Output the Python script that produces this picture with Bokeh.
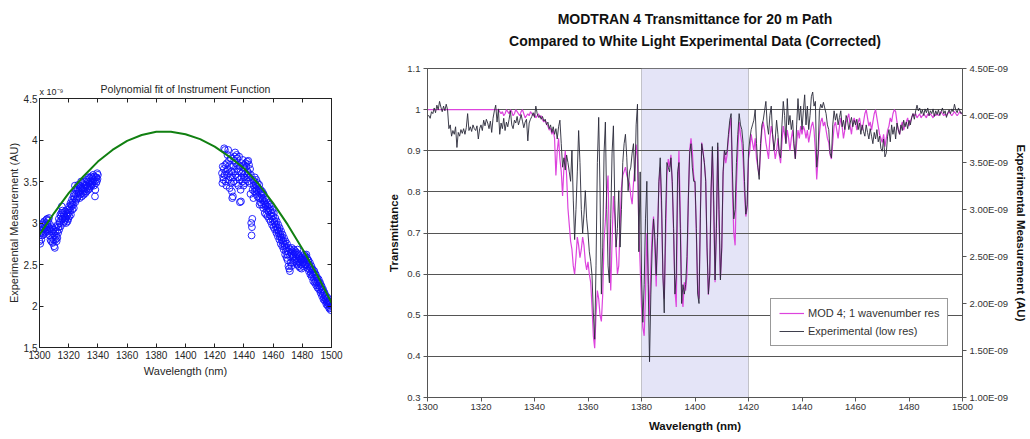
from bokeh.plotting import figure
from bokeh.layouts import row, column
from bokeh.models import (Range1d, LinearAxis, FixedTicker, CustomJSTickFormatter,
                          BoxAnnotation, Legend, LegendItem, Title, Spacer)
from bokeh.embed import file_html
from bokeh.resources import INLINE

FONT = "Liberation Sans"

# ---------------- Left panel: polynomial fit of instrument function (values x 1e-9 AU) -------------
fit_wl = [1300, 1310, 1320, 1330, 1340, 1350, 1360, 1370, 1380, 1390, 1400,
          1410, 1420, 1430, 1440, 1450, 1460, 1470, 1480, 1490, 1500]
fit_val = [2.86, 3.12, 3.36, 3.56, 3.74, 3.88, 3.99, 4.06, 4.10, 4.10, 4.07,
           4.01, 3.92, 3.80, 3.66, 3.47, 3.24, 2.98, 2.69, 2.38, 2.04]

# measured points, 0.25 nm apart, first cluster starts at 1300 nm, second at 1425 nm
inst_step = 0.25
inst_left_start = 1300
inst_left_val = [
    2.78, 2.92, 2.75, 2.88, 2.95, 2.80, 2.90, 2.85, 2.98, 2.88, 3.00, 2.86,
    2.93, 3.02, 2.90, 2.97, 2.88, 3.00, 2.95, 3.04, 2.92, 3.05, 2.98, 2.90,
    3.03, 2.95, 3.06, 2.92, 2.85, 2.98, 2.80, 2.93, 2.78, 2.90, 2.95, 2.82,
    2.76, 2.88, 2.92, 2.80, 2.72, 2.85, 2.70, 2.90, 2.80, 2.95, 2.84, 2.78,
    2.90, 2.82, 2.98, 2.88, 2.95, 3.05, 2.92, 3.00, 3.02, 3.10, 2.96, 3.08,
    3.12, 3.20, 3.05, 3.15, 3.05, 3.12, 3.00, 3.10, 3.02, 3.08, 3.14, 3.04,
    3.06, 3.00, 3.12, 3.08, 3.10, 3.02, 3.16, 3.05, 3.12, 3.20, 3.08, 3.18,
    3.15, 3.24, 3.10, 3.22, 3.20, 3.28, 3.16, 3.25, 3.22, 3.32, 3.18, 3.35,
    3.30, 3.45, 3.25, 3.40, 3.35, 3.28, 3.42, 3.30, 3.40, 3.32, 3.46, 3.36,
    3.38, 3.45, 3.30, 3.42, 3.44, 3.35, 3.50, 3.40, 3.32, 3.42, 3.36, 3.48,
    3.40, 3.34, 3.46, 3.38, 3.42, 3.50, 3.36, 3.45, 3.46, 3.38, 3.52, 3.42,
    3.44, 3.50, 3.40, 3.55, 3.48, 3.42, 3.54, 3.46, 3.50, 3.44, 3.56, 3.48,
    3.46, 3.54, 3.50, 3.58, 3.52, 3.45, 3.56, 3.50, 3.32, 3.40, 3.55, 3.48,
    3.55, 3.50, 3.60, 3.53, 3.58]
inst_right_start = 1425
inst_right_val = [
    3.60, 3.48, 3.68, 3.55, 3.52, 3.65, 3.90, 3.58, 3.88, 3.70, 3.50, 3.62,
    3.45, 3.72, 3.58, 3.82, 3.65, 3.88, 3.52, 3.75, 3.60, 3.42, 3.70, 3.55,
    3.78, 3.48, 3.62, 3.38, 3.30, 3.55, 3.32, 3.68, 3.50, 3.75, 3.62, 3.80,
    3.85, 3.58, 3.72, 3.48, 3.82, 3.65, 3.78, 3.55, 3.70, 3.45, 3.62, 3.80,
    3.52, 3.25, 3.68, 3.40, 3.26, 3.55, 3.72, 3.60, 3.50, 3.76, 3.62, 3.45,
    3.70, 3.55, 3.66, 3.48, 3.60, 3.72, 3.52, 3.68, 3.58, 3.74, 3.62, 3.50,
    3.75, 3.60, 3.70, 3.55, 3.48, 3.65, 3.35, 3.58, 3.00, 2.85, 2.95, 3.05,
    3.40, 3.52, 3.30, 3.45, 3.50, 3.38, 3.55, 3.42, 3.46, 3.35, 3.52, 3.40,
    3.44, 3.32, 3.48, 3.38, 3.42, 3.30, 3.46, 3.22, 3.36, 3.25, 3.40, 3.30,
    3.34, 3.22, 3.38, 3.28, 3.30, 3.18, 3.35, 3.24, 3.26, 3.12, 3.30, 3.20,
    3.22, 3.10, 3.28, 3.16, 3.20, 3.08, 3.24, 3.14, 3.18, 3.05, 3.22, 3.10,
    3.15, 3.02, 3.20, 3.08, 3.12, 2.98, 3.16, 3.04, 3.08, 2.95, 3.12, 3.00,
    3.02, 2.92, 3.06, 2.96, 2.98, 2.88, 3.02, 2.92, 2.94, 2.84, 2.98, 2.88,
    2.90, 2.80, 2.94, 2.84, 2.86, 2.75, 2.90, 2.80, 2.82, 2.72, 2.86, 2.76,
    2.78, 2.68, 2.82, 2.72, 2.74, 2.62, 2.78, 2.66, 2.70, 2.58, 2.75, 2.62,
    2.55, 2.66, 2.48, 2.70, 2.45, 2.60, 2.42, 2.68, 2.52, 2.64, 2.48, 2.70,
    2.58, 2.66, 2.52, 2.62, 2.60, 2.68, 2.54, 2.64, 2.56, 2.66, 2.62, 2.52,
    2.58, 2.64, 2.50, 2.68, 2.54, 2.62, 2.48, 2.60, 2.52, 2.58, 2.46, 2.56,
    2.50, 2.56, 2.45, 2.58, 2.52, 2.60, 2.48, 2.56, 2.54, 2.62, 2.50, 2.58,
    2.56, 2.60, 2.50, 2.62, 2.52, 2.58, 2.46, 2.55, 2.48, 2.55, 2.42, 2.50,
    2.44, 2.52, 2.38, 2.46, 2.40, 2.48, 2.35, 2.44, 2.38, 2.44, 2.30, 2.40,
    2.34, 2.42, 2.28, 2.38, 2.30, 2.38, 2.25, 2.34, 2.28, 2.34, 2.22, 2.30,
    2.25, 2.32, 2.20, 2.28, 2.22, 2.28, 2.16, 2.24, 2.18, 2.24, 2.12, 2.20,
    2.14, 2.20, 2.08, 2.16, 2.10, 2.16, 2.06, 2.12, 2.08, 2.12, 2.02, 2.06,
    2.04, 2.10, 2.00, 2.06, 2.02, 2.06, 1.97, 2.03, 1.98, 2.04, 1.95, 2.00,
    2.00]

left_x_ticks = [1300, 1320, 1340, 1360, 1380, 1400, 1420, 1440, 1460, 1480, 1500]
left_y_ticks = [1.5, 2, 2.5, 3, 3.5, 4, 4.5]

# ---------------- Right panel: MODTRAN vs experimental, 0.5 nm samples from 1300 nm ---------------
spec_start = 1300
spec_step = 0.5
mod_T = [
    1.0, 1.0, 1.0, 1.0, 1.0, 1.0, 1.0, 1.0, 1.0, 1.0, 1.0, 1.0, 1.0, 1.0, 1.0, 1.0, 1.0, 1.0, 1.0, 1.0,
    1.0, 1.0, 1.0, 1.0, 1.0, 1.0, 1.0, 1.0, 1.0, 1.0, 1.0, 1.0, 1.0, 1.0, 1.0, 1.0, 1.0, 1.0, 1.0, 1.0,
    1.0, 1.0, 1.0, 1.0, 1.0, 1.0, 1.0, 1.0, 1.0, 1.0, 1.0, 1.0, 1.0, 1.0, 0.995, 0.99, 0.995, 0.985, 0.99, 1.0,
    0.995, 0.99, 1.0, 0.995, 0.985, 0.99, 1.0, 0.995, 0.99, 0.985, 0.995, 1.0, 0.99, 0.98, 0.985, 0.99, 0.985, 0.995, 0.99, 0.985,
    0.99, 0.98, 0.985, 0.99, 0.98, 0.985, 0.975, 0.97, 0.975, 0.965, 0.96, 0.95, 0.955, 0.94, 0.95, 0.93, 0.84, 0.90, 0.93, 0.88,
    0.85, 0.79, 0.86, 0.90, 0.84, 0.76, 0.72, 0.68, 0.66, 0.62, 0.60, 0.64, 0.69, 0.67, 0.64, 0.66, 0.69, 0.67, 0.63, 0.61,
    0.63, 0.60, 0.58, 0.52, 0.45, 0.42, 0.50, 0.56, 0.54, 0.50, 0.485, 0.55, 0.68, 0.73, 0.80, 0.84, 0.66, 0.56, 0.68, 0.79,
    0.74, 0.66, 0.60, 0.62, 0.72, 0.81, 0.84, 0.85, 0.86, 0.84, 0.83, 0.82, 0.79, 0.77, 0.82, 0.86, 0.915, 0.88, 0.71, 0.62,
    0.52, 0.47, 0.45, 0.55, 0.70, 0.60, 0.50, 0.62, 0.70, 0.74, 0.66, 0.57, 0.70, 0.82, 0.86, 0.75, 0.60, 0.54, 0.68, 0.84,
    0.88, 0.86, 0.89, 0.82, 0.70, 0.56, 0.52, 0.80, 0.90, 0.75, 0.55, 0.52, 0.58, 0.56, 0.60, 0.78, 0.90, 0.93, 0.90, 0.84,
    0.82, 0.70, 0.56, 0.54, 0.75, 0.92, 0.90, 0.87, 0.83, 0.66, 0.55, 0.60, 0.80, 0.90, 0.75, 0.58, 0.72, 0.91, 0.72, 0.59,
    0.66, 0.84, 0.90, 0.87, 0.89, 0.93, 0.96, 0.98, 0.80, 0.70, 0.67, 0.82, 0.90, 0.97, 0.94, 0.92, 0.88, 0.80, 0.74, 0.76,
    0.88, 0.90, 0.94, 0.92, 0.90, 0.93, 0.88, 0.86, 0.84, 0.90, 0.95, 0.97, 0.95, 0.92, 0.90, 0.88, 0.93, 0.96, 0.94, 0.91,
    0.88, 0.90, 0.93, 0.89, 0.87, 0.92, 0.96, 0.94, 0.92, 0.95, 0.93, 0.90, 0.93, 0.95, 0.91, 0.88, 0.92, 0.95, 0.93, 0.96,
    0.94, 0.96, 0.95, 0.93, 0.95, 0.92, 0.94, 0.96, 0.97, 0.95, 0.90, 0.83, 0.88, 0.94, 0.97, 0.98, 0.96, 0.97, 0.95, 0.93,
    0.92, 0.89, 0.88, 0.92, 0.96, 0.97, 0.95, 0.93, 0.96, 0.98, 0.96, 0.93, 0.95, 0.97, 0.98, 0.99, 0.96, 0.94, 0.97, 0.98,
    0.97, 0.95, 0.97, 0.98, 0.96, 0.95, 0.97, 0.99, 1.00, 0.98, 0.96, 0.97, 0.95, 0.97, 0.99, 1.00, 0.98, 0.96, 0.94, 0.93,
    0.92, 0.94, 0.91, 0.93, 0.95, 0.96, 0.98, 0.97, 0.99, 1.00, 0.995, 0.97, 0.95, 0.94, 0.96, 0.97, 0.95, 0.96, 0.97, 0.98,
    0.96, 0.97, 0.98, 0.99, 0.985, 0.99, 0.98, 0.985, 0.99, 0.98, 0.985, 0.99, 0.985, 0.98, 0.99, 0.985, 0.99, 0.985, 0.98, 0.99,
    0.985, 0.99, 0.985, 0.99, 0.995, 0.99, 0.985, 0.99, 0.985, 0.99, 0.995, 0.99, 0.985, 0.99, 0.995, 0.99, 0.985, 0.99, 0.995, 0.99,
    0.99]

# experimental measurement, right axis (x 1e-9 AU)
exp_E = [
    3.99, 4.00, 3.97, 4.04, 4.02, 4.08, 4.03, 4.11, 4.06, 4.15, 4.09, 4.04, 4.10, 4.05, 4.12, 4.06, 3.86, 3.90, 3.78, 3.84,
    3.80, 3.88, 3.66, 3.82, 3.78, 3.85, 3.81, 3.86, 3.80, 3.87, 4.02, 3.84, 3.88, 3.83, 3.90, 3.86, 3.84, 3.89, 3.75, 3.86,
    3.90, 3.84, 3.95, 3.89, 3.96, 3.92, 3.86, 3.94, 3.82, 3.97, 4.05, 4.11, 3.93, 4.07, 3.80, 3.92, 3.86, 3.97, 3.84, 3.93,
    3.88, 3.96, 4.05, 3.90, 3.86, 3.95, 3.92, 3.99, 3.90, 3.95, 4.01, 3.94, 3.87, 3.93, 3.96, 3.73, 3.92, 3.96, 3.99, 4.03,
    3.98, 4.10, 4.02, 3.98, 4.00, 3.96, 3.99, 3.94, 3.96, 3.90, 3.93, 3.86, 3.90, 3.82, 3.88, 3.80, 3.86, 3.75, 3.88, 3.95,
    3.70, 3.45, 3.55, 3.42, 3.58, 3.50, 3.40, 3.30, 3.63, 3.10, 2.68, 3.00, 3.40, 3.84, 3.50, 3.00, 2.75, 2.95, 3.20, 2.90,
    2.75, 2.55, 2.45, 2.30, 1.90, 1.62, 2.40, 3.50, 3.98, 3.20, 2.10, 2.60, 3.60, 3.93, 3.00, 2.40, 2.22, 2.90, 3.60, 3.89,
    3.10, 2.60, 2.80, 3.20, 2.60, 3.00, 3.50, 3.70, 3.80, 3.55, 3.20, 3.40, 3.45, 3.60, 3.70, 3.30, 3.90, 4.12, 2.55, 3.40,
    2.30, 1.80, 2.20, 2.90, 3.30, 2.20, 1.38, 2.10, 2.60, 2.90, 2.70, 2.30, 2.70, 3.30, 3.55, 3.10, 2.30, 1.90, 2.90, 3.50,
    3.45, 3.40, 3.55, 3.30, 2.80, 2.10, 2.30, 3.40, 3.50, 2.80, 2.00, 2.20, 2.10, 2.20, 2.50, 3.10, 3.60, 3.70, 3.45, 3.30,
    3.30, 2.80, 2.10, 2.00, 2.90, 3.70, 3.60, 3.50, 3.30, 2.60, 2.10, 2.30, 3.20, 3.67, 3.10, 2.25, 2.80, 3.71, 3.00, 2.25,
    2.60, 3.40, 3.63, 3.58, 3.62, 3.80, 3.95, 4.02, 3.40, 2.90, 3.00, 3.50, 3.80, 4.02, 3.90, 3.85, 3.70, 3.30, 2.95, 3.05,
    3.60, 3.75, 3.85, 3.90, 3.95, 4.06, 3.70, 3.45, 3.32, 3.70, 3.90, 3.95, 4.05, 4.15, 3.90, 3.80, 4.00, 4.10, 3.80, 3.63,
    3.75, 3.95, 3.80, 3.60, 3.55, 3.90, 4.15, 4.00, 3.70, 4.18, 3.90, 4.00, 3.85, 3.95, 3.70, 3.54, 3.90, 4.18, 3.95, 4.10,
    3.85, 4.05, 4.22, 3.90, 4.10, 3.85, 4.00, 4.20, 4.25, 4.10, 4.15, 3.45, 3.60, 4.05, 4.12, 4.08, 4.14, 4.08, 4.02, 3.90,
    3.85, 3.60, 3.55, 3.90, 4.05, 3.95, 4.02, 3.90, 3.98, 4.05, 3.88, 3.95, 3.85, 4.00, 3.95, 3.85, 3.92, 3.98, 3.88, 3.95,
    3.90, 3.96, 3.85, 3.92, 3.80, 3.90, 3.83, 3.78, 3.90, 3.82, 3.75, 3.86, 3.78, 3.70, 3.82, 3.75, 3.85, 3.72, 3.78, 3.65,
    3.62, 3.75, 3.56, 3.60, 3.78, 3.85, 3.72, 3.90, 3.80, 3.88, 3.75, 3.92, 3.85, 3.80, 3.90, 3.84, 3.95, 3.88, 3.93, 3.86,
    3.95, 3.90, 3.98, 4.02, 3.96, 4.05, 4.11, 4.05, 4.08, 4.02, 4.06, 4.00, 4.07, 4.03, 4.08, 4.00, 4.05, 4.02, 4.07, 3.99,
    4.05, 4.01, 4.06, 4.00, 4.04, 4.08, 4.02, 4.05, 3.98, 4.03, 4.06, 4.02, 4.07, 4.04, 4.12, 4.06, 4.03, 4.08, 4.05, 4.02,
    4.04]

band_wl = [1380, 1420]
right_x_ticks = [1300, 1320, 1340, 1360, 1380, 1400, 1420, 1440, 1460, 1480, 1500]
right_y_ticks = [0.3, 0.4, 0.5, 0.6, 0.7, 0.8, 0.9, 1.0, 1.1]
exp_ticks = [1.0, 1.5, 2.0, 2.5, 3.0, 3.5, 4.0, 4.5]

legend_labels = ["MOD 4; 1 wavenumber res", "Experimental (low res)"]
title_lines = ["MODTRAN 4 Transmittance for 20 m Path",
               "Compared to White Light Experimental Data (Corrected)"]

# derived x positions
inst_left_wl = [inst_left_start + inst_step * i for i in range(len(inst_left_val))]
inst_right_wl = [inst_right_start + inst_step * i for i in range(len(inst_right_val))]
mod_wl = [spec_start + spec_step * i for i in range(len(mod_T))]
exp_wl = [spec_start + spec_step * i for i in range(len(exp_E))]


def style_axis(ax, size, color, tick_in, tick_out, line_color, label_size, bold, label_color,
               label_standoff=3, axis_label_standoff=3):
    ax.major_label_text_font = FONT
    ax.major_label_text_font_size = size
    ax.major_label_text_color = color
    ax.major_tick_in = tick_in
    ax.major_tick_out = tick_out
    ax.major_tick_line_color = line_color
    ax.minor_tick_line_color = None
    ax.axis_line_color = line_color
    ax.major_label_standoff = label_standoff
    ax.axis_label_text_font = FONT
    ax.axis_label_text_font_size = label_size
    ax.axis_label_text_font_style = "bold" if bold else "normal"
    ax.axis_label_text_color = label_color
    ax.axis_label_standoff = axis_label_standoff


# ================= Left figure =================
p1 = figure(width=372, height=359, x_range=Range1d(1300, 1500), y_range=Range1d(1.5, 4.5),
            output_backend="svg", toolbar_location=None, title=None,
            min_border_left=39, min_border_right=41, min_border_top=68, min_border_bottom=42)
p1.outline_line_color = "#222222"
p1.grid.visible = False
p1.background_fill_color = "white"
p1.border_fill_color = "white"

p1.xaxis.ticker = FixedTicker(ticks=left_x_ticks)
p1.yaxis.ticker = FixedTicker(ticks=left_y_ticks)
p1.yaxis.formatter = CustomJSTickFormatter(code="return String(Math.round(tick*10)/10);")
p1.xaxis.axis_label = "Wavelength (nm)"
p1.yaxis.axis_label = "Experimental Measurement (AU)"
style_axis(p1.xaxis[0], "10px", "#262626", 4, 0, "#222222", "11px", False, "#262626", 3, 3)
style_axis(p1.yaxis[0], "10px", "#262626", 4, 0, "#222222", "11px", False, "#262626", 2, 1)

top_ax = LinearAxis(ticker=FixedTicker(ticks=left_x_ticks))
style_axis(top_ax, "1px", None, 4, 0, "#222222", "1px", False, None, 0, 0)
p1.add_layout(top_ax, "above")
right_ax = LinearAxis(ticker=FixedTicker(ticks=left_y_ticks))
style_axis(right_ax, "1px", None, 4, 0, "#222222", "1px", False, None, 0, 0)
p1.add_layout(right_ax, "right")

p1.scatter(inst_left_wl, inst_left_val, marker="circle", size=6.8, fill_color=None,
           line_color="#1010ff", line_width=0.9)
p1.scatter(inst_right_wl, inst_right_val, marker="circle", size=6.8, fill_color=None,
           line_color="#1010ff", line_width=0.9)
p1.line(fit_wl, fit_val, line_color="#118011", line_width=2)

p1.add_layout(Title(text="x 10\u207b\u2079", align="left", standoff=3, text_font=FONT,
                    text_font_size="9px", text_font_style="normal", text_color="#262626"), "above")
p1.add_layout(Title(text="Polynomial fit of Instrument Function", align="center", standoff=-22,
                    text_font=FONT, text_font_size="10.5px", text_font_style="normal",
                    text_color="#262626"), "above")

# ================= Right figure =================
p2 = figure(width=658, height=439, x_range=Range1d(1300, 1500), y_range=Range1d(0.3, 1.1),
            output_backend="svg", toolbar_location=None, title=None,
            min_border_left=55, min_border_right=68, min_border_top=68, min_border_bottom=42)
p2.extra_y_ranges = {"exp": Range1d(1.0, 4.5)}
p2.outline_line_color = "#555555"
p2.background_fill_color = "white"
p2.border_fill_color = "white"
p2.xgrid.visible = False
p2.ygrid.ticker = FixedTicker(ticks=right_y_ticks)
p2.ygrid.grid_line_color = "#555555"
p2.ygrid.grid_line_width = 1

p2.xaxis.ticker = FixedTicker(ticks=right_x_ticks)
p2.yaxis.ticker = FixedTicker(ticks=right_y_ticks)
p2.yaxis.formatter = CustomJSTickFormatter(code="return String(Math.round(tick*10)/10);")
p2.xaxis.axis_label = "Wavelength (nm)"
p2.yaxis.axis_label = "Transmittance"
style_axis(p2.xaxis[0], "9.5px", "#333333", 0, 4, "#555555", "11.5px", True, "#111111", 2, 7)
style_axis(p2.yaxis[0], "9.5px", "#333333", 0, 4, "#555555", "11.5px", True, "#111111", 3, 4)

exp_ax = LinearAxis(y_range_name="exp", ticker=FixedTicker(ticks=exp_ticks),
                    formatter=CustomJSTickFormatter(code="return tick.toFixed(2) + 'E-09';"),
                    axis_label="Experimental Measurement (AU)")
style_axis(exp_ax, "9.5px", "#333333", 0, 4, "#555555", "11.5px", True, "#111111", 3, 4)
p2.add_layout(exp_ax, "right")

p2.add_layout(BoxAnnotation(left=band_wl[0], right=band_wl[1], fill_color="#e4e4f7",
                            fill_alpha=1.0, line_color="#555555", line_width=1, level="image"))

r_mod = p2.line(mod_wl, mod_T, line_color="#dd44dd", line_width=1.2)
r_exp = p2.line(exp_wl, exp_E, y_range_name="exp", line_color="#2a2a3a",
                line_width=1.0, line_alpha=0.9)

legend = Legend(items=[LegendItem(label=legend_labels[0], renderers=[r_mod]),
                       LegendItem(label=legend_labels[1], renderers=[r_exp])],
                location=(343, 51), label_text_font=FONT, label_text_font_size="11px",
                label_text_color="#333333", glyph_width=25, glyph_height=12,
                label_standoff=4, padding=8, spacing=6, margin=0,
                border_line_color="#333333", border_line_width=1,
                background_fill_color="white", background_fill_alpha=1.0)
p2.add_layout(legend)

# second title line sits nearest the frame, first line stacked above it
p2.add_layout(Title(text=title_lines[1], align="center", standoff=39, text_font=FONT,
                    text_font_size="14px", text_font_style="bold", text_color="#111111"), "above")
p2.add_layout(Title(text=title_lines[0], align="center", standoff=-31, text_font=FONT,
                    text_font_size="14px", text_font_style="bold", text_color="#111111"), "above")

layout = row(column(Spacer(height=30, width=372), p1), p2)
open("out.html", "w").write(file_html(layout, INLINE))
